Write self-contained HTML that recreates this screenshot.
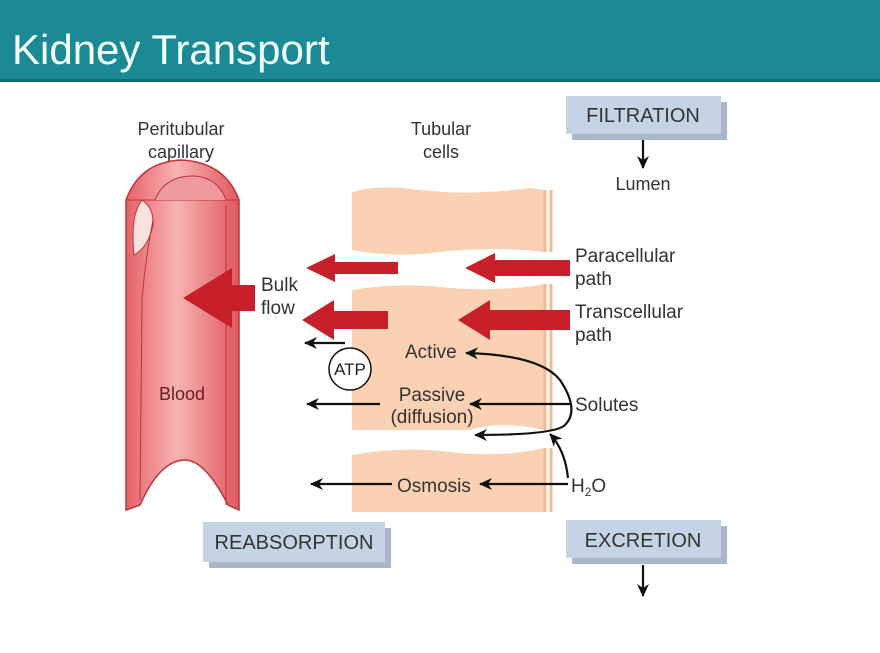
<!DOCTYPE html>
<html><head><style>
body{margin:0;width:880px;height:648px;background:#fff;overflow:hidden;font-family:"Liberation Sans",sans-serif}
</style></head><body>
<svg width="880" height="648" xmlns="http://www.w3.org/2000/svg" font-family="Liberation Sans, sans-serif">
<defs>
<linearGradient id="cap" x1="0" x2="1">
<stop offset="0" stop-color="#e4636a"/><stop offset="0.45" stop-color="#f7b3b3"/><stop offset="1" stop-color="#e0585f"/>
</linearGradient>
<marker id="ah" markerWidth="14" markerHeight="12" refX="12" refY="6" orient="auto-start-reverse" markerUnits="userSpaceOnUse">
<path d="M0,0 L13,6 L0,12 L4,6z" fill="#111"/></marker>
</defs>
<rect x="0" y="0" width="880" height="80" fill="#1c8a94"/>
<rect x="0" y="79" width="880" height="3" fill="#156a70"/>
<text x="12" y="64" font-size="42" fill="#f4ffff">Kidney Transport</text>

<g font-size="18" fill="#333" text-anchor="middle">
<text x="181" y="135">Peritubular</text><text x="181" y="158">capillary</text>
<text x="441" y="135">Tubular</text><text x="441" y="158">cells</text>
<text x="643" y="190">Lumen</text>
</g>

<path d="M126,200 Q140,162 181,160 Q225,162 239,200 L239,510 L228,505 Q205,460 185,460 Q160,460 140,505 L126,510 Z" fill="url(#cap)" stroke="#c0303a" stroke-width="1.5"/>
<path d="M126,200 L239,200" stroke="#c0303a" fill="none"/>
<path d="M155,200 Q165,175 195,176 Q218,178 226,200" fill="#f09aa0" stroke="#c0303a"/>
<path d="M134,255 Q130,215 142,200 Q154,208 153,225 Q148,248 134,255Z" fill="#fbe0e0" stroke="#c0303a"/>
<path d="M153,220 Q145,260 142,300 L140,500" fill="none" stroke="#c0303a"/>
<path d="M226,205 L226,505" fill="none" stroke="#c0303a"/>
<text x="182" y="400" font-size="18" fill="#6a2020" text-anchor="middle">Blood</text>

<g fill="#fad1b3">
<path d="M352,192 Q380,184 420,190 Q470,196 530,188 L545,190 L545,252 Q490,246 440,252 Q395,258 352,250 Z"/>
<path d="M352,290 Q400,282 450,288 Q500,292 545,284 L545,430 Q500,420 470,430 L352,430 Z"/>
<path d="M352,455 Q400,446 450,452 Q500,458 545,448 L545,512 L352,512 Z"/>
</g>
<g stroke="#f5b890" stroke-width="3" fill="none">
<path d="M545,190 v62 M551,190 v62 M545,284 v146 M551,284 v146 M545,448 v64 M551,448 v64"/>
</g>

<g fill="#c8202a">
<path d="M398,262 L335,262 L335,254 L306,268 L335,282 L335,274 L398,274Z"/>
<path d="M570,260 L495,260 L495,253 L465,268 L495,283 L495,276 L570,276Z"/>
<path d="M388,311 L334,311 L334,300 L302,320 L334,340 L334,329 L388,329Z"/>
<path d="M570,310 L490,310 L490,300 L458,320 L490,340 L490,330 L570,330Z"/>
<path d="M255,285 L232,285 L232,268 L183,298 L232,328 L232,311 L255,311Z"/>
</g>
<g font-size="19" fill="#333">
<text x="261" y="291">Bulk</text><text x="261" y="314">flow</text>
<text x="575" y="262">Paracellular</text><text x="575" y="285">path</text>
<text x="575" y="318">Transcellular</text><text x="575" y="341">path</text>
<text x="575" y="411">Solutes</text>
<text x="405" y="358">Active</text>
<text x="432" y="401" text-anchor="middle">Passive</text>
<text x="432" y="423" text-anchor="middle">(diffusion)</text>
<text x="397" y="492">Osmosis</text>
<text x="571" y="492">H<tspan font-size="12" dy="4">2</tspan><tspan dy="-4">O</tspan></text>
</g>

<g stroke="#111" stroke-width="2.2" fill="none" marker-end="url(#ah)">
<path d="M345,343 L305,343"/>
<path d="M380,404 L307,404"/>
<path d="M392,484 L311,484"/>
<path d="M570,404 L470,404"/>
<path d="M568,484 L480,484"/>
<path d="M643,138 L643,168"/>
<path d="M643,565 L643,596"/>
<path d="M568,478 Q565,450 550,434"/>
</g>
<path d="M466,353 Q540,355 560,380 Q580,410 565,425 Q555,435 475,435" stroke="#111" stroke-width="2.2" fill="none" marker-start="url(#ah)" marker-end="url(#ah)"/>
<circle cx="350" cy="369" r="21" fill="#fff" stroke="#111" stroke-width="1.5"/>
<text x="350" y="375" font-size="17" text-anchor="middle" fill="#222">ATP</text>

<g>
<rect x="572" y="102" width="155" height="38" fill="#a9b8c8"/>
<rect x="566" y="96" width="155" height="38" fill="#c4d4e4"/>
<text x="643" y="122" font-size="20" text-anchor="middle" fill="#333">FILTRATION</text>
<rect x="209" y="528" width="182" height="40" fill="#a9b8c8"/>
<rect x="203" y="522" width="182" height="40" fill="#c4d4e4"/>
<text x="294" y="549" font-size="20" text-anchor="middle" fill="#333">REABSORPTION</text>
<rect x="572" y="526" width="155" height="38" fill="#a9b8c8"/>
<rect x="566" y="520" width="155" height="38" fill="#c4d4e4"/>
<text x="643" y="547" font-size="20" text-anchor="middle" fill="#333">EXCRETION</text>
</g>
</svg>
</body></html>
